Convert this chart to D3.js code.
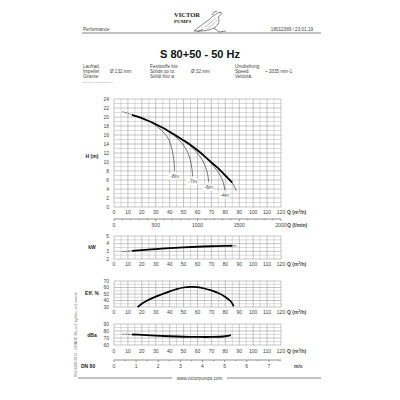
<!DOCTYPE html>
<html>
<head>
<meta charset="utf-8">
<script src="https://cdn.jsdelivr.net/npm/d3@7"></script>
<style>
  body { margin: 0; background: #fff; }
  svg { font-family: "Liberation Sans", Arial, sans-serif; }
  .tick-label { font-size: 5px; fill: #444; }
  .small { font-size: 4.6px; fill: #444; }
</style>
</head>
<body>
<div id="chart"></div>
<script>
// ---- data ----
var xTicks = [0, 10, 20, 30, 40, 50, 60, 70, 80, 90, 100, 110, 120];
var lminTicks = [0, 500, 1000, 1500, 2000];
var dnTicks = [0, 1, 2, 3, 4, 5, 6, 7];

// H (m) over Q (m3/h)
var mainQ = [6, 10, 13, 15, 20, 25, 30, 35, 40, 45, 50, 55, 60, 65, 70, 75, 80, 85, 88];
var mainH = [21.2, 20.8, 20.45, 20.25, 19.75, 19.1, 18.4, 17.6, 16.7, 15.8, 14.8, 13.8, 12.6, 11.3, 9.9, 8.6, 7.0, 5.4, 3.6];

// curves for the immersion depths
var depthNames = ["-8m", "-7m", "-6m", "-4m"];
var depthQ = [
  [25, 30, 34, 37, 39.5, 41.2, 42.3, 43, 43.4, 43.5],
  [38, 43, 47, 50.5, 53, 54.8, 55.8, 56.3, 56.5],
  [50, 55, 59, 62.5, 65, 66.8, 67.7, 68],
  [62, 67, 71.5, 75, 77.5, 79, 79.5]
];
var depthH = [
  [19.1, 18.1, 17.1, 16.1, 14.9, 13.4, 11.9, 10.4, 9.0, 8.0],
  [17.0, 15.9, 14.8, 13.5, 12.1, 10.5, 8.9, 7.7, 6.8],
  [14.8, 13.5, 12.3, 10.9, 9.5, 7.9, 6.5, 5.5],
  [12.1, 10.6, 9.1, 7.7, 6.3, 4.9, 3.8]
];

var kwQ = [6, 13, 20, 30, 40, 50, 60, 70, 80, 85, 88];
var kwP = [2.95, 3.07, 3.17, 3.3, 3.42, 3.52, 3.6, 3.66, 3.71, 3.73, 3.7];

var effQ = [17, 20, 25, 30, 35, 40, 45, 50, 55, 60, 65, 70, 75, 80, 84, 86];
var effE = [30, 35, 41, 46, 50, 54, 57.5, 60, 61, 60.5, 58.5, 55.5, 51.5, 45.5, 38.5, 31];

var dbQ = [6, 13, 20, 30, 40, 50, 60, 70, 80, 84, 88];
var dbL = [75.5, 75, 74.5, 73.5, 72.5, 71.8, 71.5, 71.5, 72.5, 74, 77.5];

// thick part of the curves (operating range)
var thickFrom = 13, thickTo = 85;

var svg = d3.select("#chart").append("svg")
  .attr("width", 400)
  .attr("height", 400);

var x = d3.scaleLinear().domain([0, 120]).range([114, 281]);
var xl = d3.scaleLinear().domain([0, 2000]).range([114, 281]);
var xv = d3.scaleLinear().domain([0, 120 / 15.9]).range([114, 281]);

function pts(qs, vs) {
  return qs.map(function (q, i) { return [q, vs[i]]; });
}

// draws a grid panel, returns its y scale
function panel(top, bottom, yMin, yMax, yStep, labelStep, title, titleY, xLabelY) {
  var y = d3.scaleLinear().domain([yMin, yMax]).range([bottom, top]);
  var g = svg.append("g");
  for (var q = 0; q <= 120; q += 5) {
    g.append("line")
      .attr("x1", x(q)).attr("x2", x(q))
      .attr("y1", top).attr("y2", bottom)
      .style("stroke", q % 10 === 0 ? "#8a8a8a" : "#b5b5b5")
      .style("stroke-width", 0.5);
  }
  for (var v = yMin; v <= yMax + 1e-9; v += yStep) {
    var major = Math.abs(v / labelStep - Math.round(v / labelStep)) < 1e-6;
    g.append("line")
      .attr("x1", x(0)).attr("x2", x(120))
      .attr("y1", y(v)).attr("y2", y(v))
      .style("stroke", major ? "#8a8a8a" : "#b5b5b5")
      .style("stroke-width", 0.5);
    if (major) {
      g.append("text")
        .attr("class", "tick-label")
        .attr("x", x(0) - 5)
        .attr("y", y(v) + 1.7)
        .attr("text-anchor", "end")
        .text(d3.format("~g")(+v.toFixed(2)));
    }
  }
  xTicks.forEach(function (t) {
    g.append("text")
      .attr("class", "tick-label")
      .attr("x", x(t))
      .attr("y", xLabelY)
      .attr("text-anchor", "middle")
      .text(t);
  });
  g.append("text")
    .attr("class", "tick-label")
    .attr("x", 287)
    .attr("y", xLabelY)
    .style("font-weight", "bold")
    .html("Q (m<tspan baseline-shift='super' font-size='3px'>3</tspan>/h)");
  g.append("text")
    .attr("x", 92)
    .attr("y", titleY)
    .attr("text-anchor", "middle")
    .style("font-size", "5px")
    .style("font-weight", "bold")
    .style("fill", "#222")
    .text(title);
  return y;
}

// thin dashed start, thick middle, thin tail
function perfCurve(y, qs, vs, allThick) {
  var line = d3.line()
    .x(function (d) { return x(d[0]); })
    .y(function (d) { return y(d[1]); })
    .curve(d3.curveCatmullRom.alpha(0.5));
  var data = pts(qs, vs);
  if (allThick) {
    svg.append("path").attr("d", line(data))
      .style("fill", "none").style("stroke", "#000").style("stroke-width", 1.7);
    return;
  }
  svg.append("path").attr("d", line(data.filter(function (d) { return d[0] <= thickFrom; })))
    .style("fill", "none").style("stroke", "#222").style("stroke-width", 0.6)
    .style("stroke-dasharray", "2,0.8");
  svg.append("path").attr("d", line(data.filter(function (d) { return d[0] >= thickTo; })))
    .style("fill", "none").style("stroke", "#222").style("stroke-width", 0.6);
  svg.append("path").attr("d", line(data.filter(function (d) { return d[0] >= thickFrom && d[0] <= thickTo; })))
    .style("fill", "none").style("stroke", "#000").style("stroke-width", 1.8);
}

// ---- header ----
var logo = svg.append("g");
logo.append("text").attr("x", 174).attr("y", 17)
  .style("font-family", "'Liberation Serif', serif").style("font-weight", "bold")
  .style("font-size", "6.5px").style("fill", "#222").text("VICTOR");
logo.append("text").attr("x", 174).attr("y", 23)
  .style("font-family", "'Liberation Serif', serif").style("font-weight", "bold")
  .style("font-size", "5px").style("fill", "#222").text("PUMPS");
logo.append("path")
  .attr("d", "M194,31 C200,26 206,22 211,18 C214,15 217,13 221,12 C222,14 220,16 218,17 C220,20 219,25 214,28 C210,30 205,31 201,31 Z M203,29 L197,32 M214,28 L219,32 L226,31 M212,15 L214,12 L217,11")
  .style("fill", "none").style("stroke", "#333").style("stroke-width", 0.6);
logo.append("path")
  .attr("d", "M205,27 C209,24 213,21 216,18 M207,29 C211,26 215,23 217,20")
  .style("fill", "none").style("stroke", "#555").style("stroke-width", 0.4);

svg.append("text").attr("class", "small").attr("x", 83).attr("y", 31).text("Performance");
svg.append("text").attr("class", "small").attr("x", 313).attr("y", 31)
  .attr("text-anchor", "end").text("18012389 /   23.01.19");
svg.append("line").attr("x1", 82).attr("x2", 321).attr("y1", 33).attr("y2", 33)
  .style("stroke", "#333").style("stroke-width", 0.6);

svg.append("text").attr("x", 200).attr("y", 58).attr("text-anchor", "middle")
  .style("font-size", "11px").style("font-weight", "bold").style("fill", "#111")
  .text("S 80+50 - 50 Hz");

var infoRows = [
  [["Laufrad:", 83], ["Feststoffe bis:", 150], ["Umdrehung:", 235]],
  [["Impeller:", 83], ["Ø 132 mm", 110], ["Solids up to:", 150], ["Ø 32 mm", 191], ["Speed:", 235], ["~ 2035 min-1", 265]],
  [["Girante:", 83], ["Solidi fino a:", 150], ["Velocità:", 235]]
];
infoRows.forEach(function (row, i) {
  row.forEach(function (c) {
    svg.append("text").attr("class", "small").attr("x", c[1]).attr("y", 68 + i * 5).text(c[0]);
  });
});
svg.append("text").attr("x", 83).attr("y", 83)
  .style("font-size", "2px").style("fill", "#888").text("Prop 80 KS - 132mm, 2035 min-1");

// ---- H / Q ----
var yH = panel(99, 207, 0, 24, 1, 2, "H (m)", 158, 214);
perfCurve(yH, mainQ, mainH, false);

var depthLine = d3.line()
  .x(function (d) { return x(d[0]); })
  .y(function (d) { return yH(d[1]); })
  .curve(d3.curveCatmullRom.alpha(0.5));
depthNames.forEach(function (name, i) {
  var data = pts(depthQ[i], depthH[i]);
  svg.append("path").attr("d", depthLine(data))
    .style("fill", "none").style("stroke", "#222").style("stroke-width", 0.6);
  var last = data[data.length - 1];
  svg.append("rect")
    .attr("x", x(last[0]) - 6).attr("y", yH(last[1]) + 2.5)
    .attr("width", 11).attr("height", 6).style("fill", "#fff");
  svg.append("text").attr("class", "tick-label")
    .attr("x", x(last[0])).attr("y", yH(last[1]) + 7)
    .attr("text-anchor", "middle").text(name);
});

// l/min axis
var lminAxis = svg.append("g");
lminAxis.append("line").attr("x1", x(0)).attr("x2", x(120)).attr("y1", 219).attr("y2", 219)
  .style("stroke", "#444").style("stroke-width", 0.6);
d3.range(0, 2001, 100).forEach(function (t) {
  lminAxis.append("line").attr("x1", xl(t)).attr("x2", xl(t))
    .attr("y1", 219).attr("y2", t % 500 === 0 ? 221 : 220.2)
    .style("stroke", "#444").style("stroke-width", 0.5);
});
lminTicks.forEach(function (t) {
  lminAxis.append("text").attr("class", "tick-label")
    .attr("x", xl(t)).attr("y", 227).attr("text-anchor", "middle").text(t);
});
lminAxis.append("text").attr("class", "tick-label").attr("x", 287).attr("y", 227)
  .style("font-weight", "bold").text("Q (l/min)");

// ---- kW ----
var yP = panel(236, 259, 2, 5, 0.5, 1, "kW", 249, 266);
perfCurve(yP, kwQ, kwP, false);

// ---- Eff ----
var yE = panel(281, 307, 30, 70, 5, 10, "Eff. %", 295, 314);
perfCurve(yE, effQ, effE, true);

// ---- dBa ----
var yD = panel(324, 345, 60, 90, 5, 10, "dBa", 337, 353);
perfCurve(yD, dbQ, dbL, false);

// velocity DN 80
var dn = svg.append("g");
dn.append("line").attr("x1", x(0)).attr("x2", x(120)).attr("y1", 360).attr("y2", 360)
  .style("stroke", "#444").style("stroke-width", 0.6);
d3.range(0, 7.6, 0.5).forEach(function (t) {
  dn.append("line").attr("x1", xv(t)).attr("x2", xv(t))
    .attr("y1", 360).attr("y2", t % 1 === 0 ? 362 : 361.2)
    .style("stroke", "#444").style("stroke-width", 0.5);
});
dnTicks.forEach(function (t) {
  dn.append("text").attr("class", "tick-label")
    .attr("x", xv(t)).attr("y", 367.5).attr("text-anchor", "middle").text(t);
});
dn.append("text").attr("x", 81).attr("y", 367.5)
  .style("font-size", "5px").style("font-weight", "bold").style("fill", "#222").text("DN 80");
dn.append("text").attr("class", "tick-label").attr("x", 294).attr("y", 367.5)
  .style("font-weight", "bold").text("m/s");

// rotated norm text
svg.append("text")
  .attr("transform", "translate(77,377) rotate(-90)")
  .style("font-size", "3.6px").style("fill", "#666")
  .text("ISO 9906:2012 - GRADE 3B, ρ=1 kg/dm³, ν=1 mm²/s");

// ---- footer ----
svg.append("line").attr("x1", 78).attr("x2", 172).attr("y1", 378).attr("y2", 378)
  .style("stroke", "#333").style("stroke-width", 0.6);
svg.append("line").attr("x1", 227).attr("x2", 321).attr("y1", 378).attr("y2", 378)
  .style("stroke", "#333").style("stroke-width", 0.6);
svg.append("text").attr("class", "small").attr("x", 199.5).attr("y", 379.5)
  .attr("text-anchor", "middle").text("www.victorpumps.com");
</script>
</body>
</html>
